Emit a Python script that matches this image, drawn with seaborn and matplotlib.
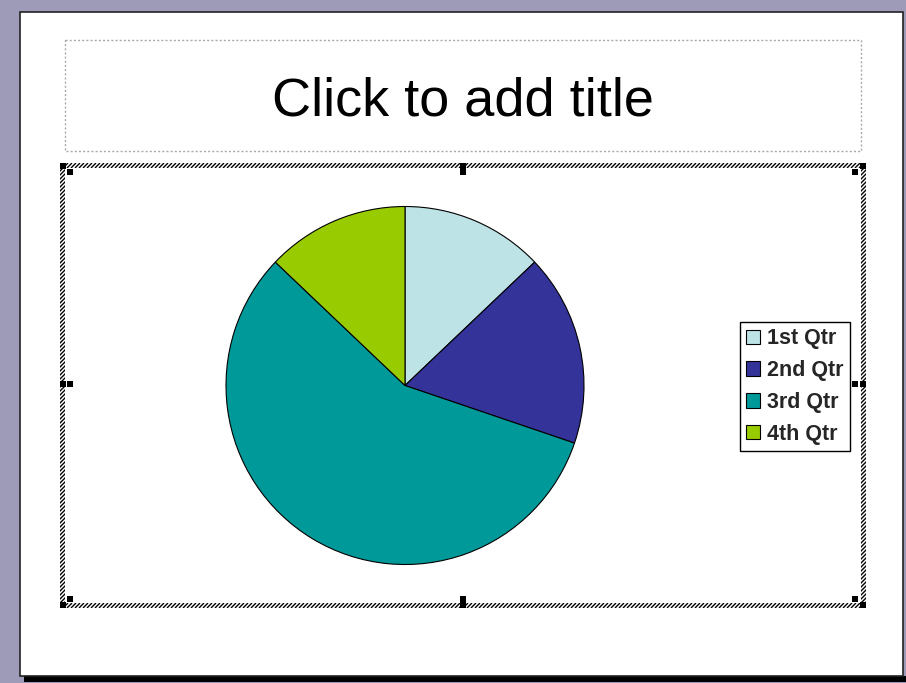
import matplotlib
matplotlib.use("Agg")
import matplotlib.pyplot as plt
import matplotlib.patches as mpatches
from matplotlib.collections import LineCollection
import numpy as np
import seaborn as sns

sns.set_style("white")
plt.rcParams['font.family'] = ['Liberation Sans', 'DejaVu Sans']

# Chart data
quarters = ['1st Qtr', '2nd Qtr', '3rd Qtr', '4th Qtr']
sales = [20.4, 27.4, 90, 20.4]
slice_colors = sns.color_palette(['#BEE3E7', '#333399', '#009999', '#99CC00'])
title_text = 'Click to add title'

W, H = 906, 683
fig = plt.figure(figsize=(W / 100, H / 100), dpi=100)

# Slide background drawn in pixel coordinates
bg = fig.add_axes([0, 0, 1, 1])
bg.set_xlim(0, W)
bg.set_ylim(H, 0)
bg.axis('off')
bg.add_patch(mpatches.Rectangle((0, 0), W, H, facecolor='#9E9BB9', edgecolor='none'))
bg.add_patch(mpatches.Rectangle((24, 676), W - 24, 6, facecolor='black', edgecolor='none'))
bg.add_patch(mpatches.Rectangle((20, 12), 883, 664, facecolor='white', edgecolor='#222222', lw=1.2))

# Title placeholder
bg.add_patch(mpatches.Rectangle((65, 40), 796, 111, facecolor='none', edgecolor='#AAAAAA',
                                lw=1, linestyle=(0, (1.5, 1.5))))
bg.text(463, 102, title_text, ha='center', va='center', fontsize=39, color='black')

# Hatched selection frame around the chart object
x0, y0, x1, y1, t = 60, 163, 866, 608, 5
for (x, y, w, h) in [(x0, y0, x1 - x0, t), (x0, y1 - t, x1 - x0, t),
                     (x0, y0, t, y1 - y0), (x1 - t, y0, t, y1 - y0)]:
    strip = mpatches.Rectangle((x, y), w, h, facecolor='white', edgecolor='none')
    bg.add_patch(strip)
    segs = [[(c - (y + h), y + h), (c - y, y)] for c in np.arange(x + y, x + w + y + h + 4, 4)]
    lc = LineCollection(segs, colors='black', linewidths=1.0)
    bg.add_collection(lc)
    lc.set_clip_path(strip)
# selection handles
for (hx, hy) in [(x0, y0), (460, y0), (x1 - 6, y0), (x0, 381), (x1 - 6, 381),
                 (x0, y1 - 6), (460, y1 - 6), (x1 - 6, y1 - 6)]:
    bg.add_patch(mpatches.Rectangle((hx, hy), 6, 6, facecolor='black', edgecolor='none'))
for (hx, hy) in [(67, 169), (460, 169), (852, 169), (67, 381), (852, 381),
                 (67, 596), (460, 596), (852, 596)]:
    bg.add_patch(mpatches.Rectangle((hx, hy), 6, 6, facecolor='black', edgecolor='none'))

# Pie chart
ax = fig.add_axes([226 / W, (H - 565) / H, 358 / W, 359 / H])
ax.set_facecolor('white')
wedges, _ = ax.pie(sales, colors=slice_colors, startangle=90, counterclock=False,
                   radius=1.0, wedgeprops=dict(edgecolor='black', linewidth=0.8))
ax.set_xlim(-1, 1)
ax.set_ylim(-1, 1)
ax.set_axis_on()
ax.set_xticks([])
ax.set_yticks([])
for s in ax.spines.values():
    s.set_visible(True)
    s.set_color('black')
    s.set_linewidth(0.8)

leg = fig.legend(wedges, quarters, loc='upper left',
                 bbox_to_anchor=(740 / W, 1 - 322 / H),
                 frameon=True, fancybox=False, edgecolor='black', framealpha=1,
                 borderpad=0.3, borderaxespad=0, handlelength=0.65, handleheight=0.65,
                 handletextpad=0.3, labelspacing=0.5,
                 prop={'weight': 'bold', 'size': 15.5})
leg.get_frame().set_linewidth(1.0)

fig.savefig('out.png', dpi=100)
